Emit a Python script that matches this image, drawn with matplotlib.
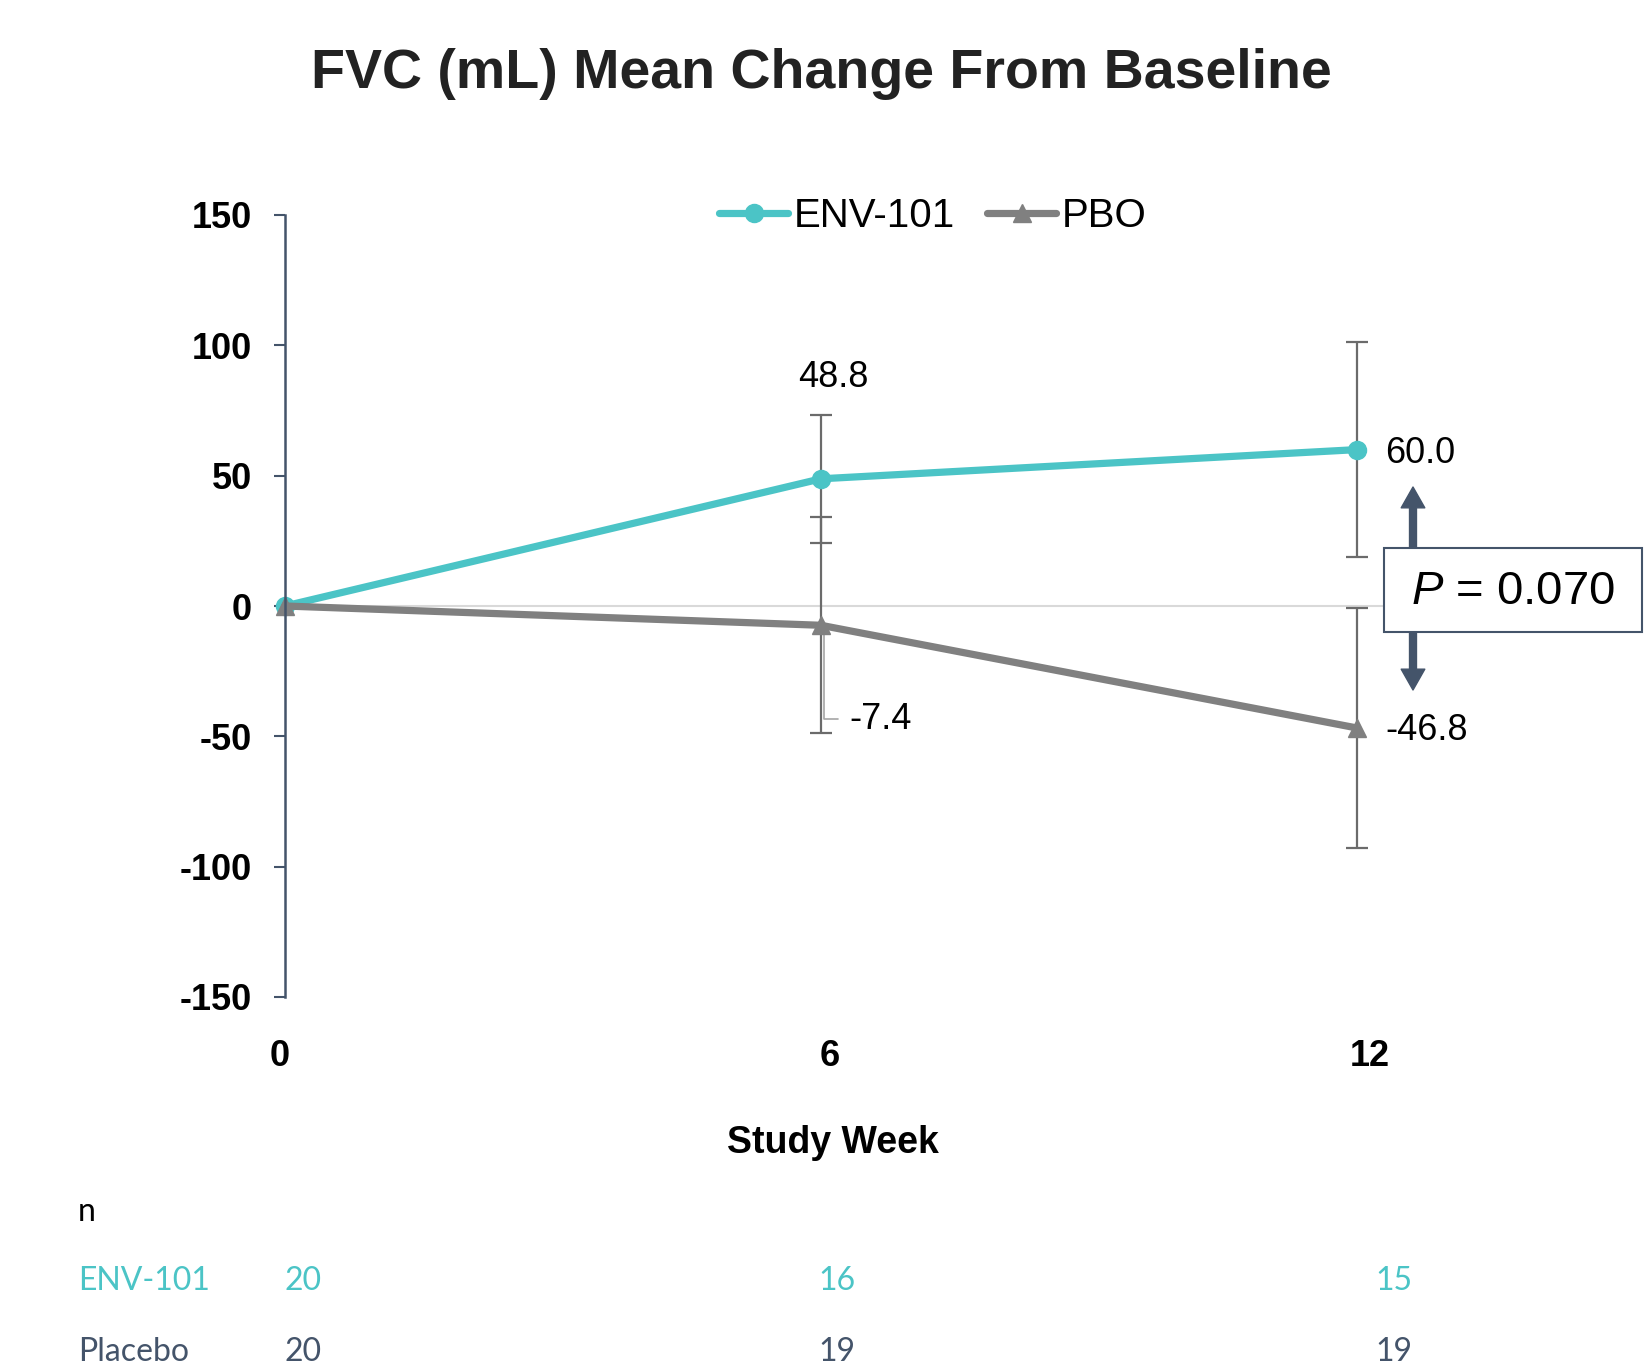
import matplotlib
matplotlib.use("Agg")
import matplotlib.pyplot as plt
from matplotlib.patches import Rectangle
from matplotlib.transforms import offset_copy, ScaledTranslation
import numpy as np

plt.rcParams['font.family'] = ['Liberation Sans', 'DejaVu Sans']
plt.rcParams['mathtext.fontset'] = 'custom'
plt.rcParams['mathtext.it'] = 'Liberation Sans:italic'
plt.rcParams['mathtext.rm'] = 'Liberation Sans'

# ---- data ----
weeks = [0, 6, 12]
week_labels = ["0", "6", "12"]
env_mean = [0.0, 48.8, 60.0]
env_err = [0.0, 24.5, 41.3]
pbo_mean = [0.0, -7.4, -46.8]
pbo_err = [0.0, 41.5, 46.1]
series_names = ["ENV-101", "PBO"]
p_text = "$P$ = 0.070"
n_row_names = ["ENV-101", "Placebo"]
n_env = [20, 16, 15]
n_pbo = [20, 19, 19]
yticks = [-150, -100, -50, 0, 50, 100, 150]

TEAL = "#4BC4C6"
GRAY = "#808080"
ERR = "#6B6B6B"
SLATE = "#44546A"

W, H = 1650, 1370
fig = plt.figure(figsize=(W / 100, H / 100), dpi=100)
ax = fig.add_axes([285 / W, 1 - 997 / H, (1357 - 285) / W, (997 - 215) / H])

ax.set_xlim(0, 12)
ax.set_ylim(-150, 150)

# zero line
ax.plot([0, 12.4], [0, 0], color="#D9D9D9", lw=1.5, zorder=1, clip_on=False)

# error bars (weeks 6 and 12)
ax.errorbar(weeks[1:], env_mean[1:], yerr=env_err[1:], fmt="none", ecolor=ERR,
            elinewidth=1.6, capsize=8, capthick=1.6, zorder=2, clip_on=False)
ax.errorbar(weeks[1:], pbo_mean[1:], yerr=pbo_err[1:], fmt="none", ecolor=ERR,
            elinewidth=1.6, capsize=8, capthick=1.6, zorder=2, clip_on=False)

# lines
ax.plot(weeks, env_mean, color=TEAL, lw=5.2, marker="o", markersize=13,
        solid_capstyle="round", zorder=3, clip_on=False, label=series_names[0])
ax.plot(weeks, pbo_mean, color=GRAY, lw=5.2, marker="^", markersize=13,
        solid_capstyle="round", zorder=4, clip_on=False, label=series_names[1])

# data labels
lab_fs = 26
ax.annotate(f"{env_mean[1]:.1f}", (weeks[1], env_mean[1]), xytext=(12, 101),
            textcoords="offset pixels", ha="center", va="center", fontsize=lab_fs)
ax.annotate(f"{env_mean[2]:.1f}", (weeks[2], env_mean[2]), xytext=(28, -4),
            textcoords="offset pixels", ha="left", va="center", fontsize=lab_fs)
ax.annotate(f"{pbo_mean[2]:.1f}", (weeks[2], pbo_mean[2]), xytext=(28, -3),
            textcoords="offset pixels", ha="left", va="center", fontsize=lab_fs)
lead_tr = offset_copy(ax.transData, fig=fig, x=3, y=0, units="dots")
ax.annotate(f"{pbo_mean[1]:.1f}", (weeks[1], pbo_mean[1]), xycoords=lead_tr,
            xytext=(25, -94), textcoords="offset pixels", ha="left", va="center",
            fontsize=lab_fs,
            arrowprops=dict(arrowstyle="-", color="#A6A6A6", lw=1.2,
                            connectionstyle="angle,angleA=0,angleB=90,rad=0",
                            relpos=(0, 0.5), shrinkA=6, shrinkB=0))

# axes styling
for s in ["top", "right", "bottom"]:
    ax.spines[s].set_visible(False)
ax.spines["left"].set_color(SLATE)
ax.spines["left"].set_linewidth(1.8)
ax.spines["left"].set_zorder(5)
ax.set_yticks(yticks)
ax.set_yticklabels([str(v) for v in yticks], fontsize=26, fontweight="bold")
ax.tick_params(axis="y", length=8, width=1.5, color=SLATE, pad=16)
ax.set_xticks(weeks)
ax.set_xticklabels(week_labels, fontsize=26, fontweight="bold")
ax.tick_params(axis="x", length=0, pad=30)
for lab, dx in zip(ax.get_xticklabels(), [-5, 9, 13]):
    lab.set_transform(lab.get_transform() + ScaledTranslation(dx / 100, 0, fig.dpi_scale_trans))

# legend
leg = fig.legend(loc="center", bbox_to_anchor=(933 / W, 1 - 216 / H), ncol=2,
                 frameon=False, fontsize=29, handlelength=1.7, handletextpad=0.15,
                 columnspacing=0.8, borderaxespad=0)

# title and x label
fig.text(821 / W, 1 - 74 / H, "FVC (mL) Mean Change From Baseline",
         ha="center", va="center", fontsize=40, fontweight="bold", color="#222222")
fig.text(833 / W, 1 - 1143 / H, "Study Week", ha="center", va="center",
         fontsize=27, fontweight="bold")

# P-value box and arrows
fig.patches.append(Rectangle((1384 / W, 1 - 632 / H), 258 / W, 84 / H,
                             transform=fig.transFigure, facecolor="white",
                             edgecolor=SLATE, lw=1.5, zorder=5))
fig.text(1513 / W, 1 - 592 / H, p_text, ha="center", va="center", fontsize=34,
         zorder=6)
arrow_kw = dict(arrowstyle="simple,head_length=0.75,head_width=0.85,tail_width=0.25",
                color=SLATE, mutation_scale=20, shrinkA=0, shrinkB=0)
ax.annotate("", xy=(1413, H - 487), xytext=(1413, H - 548), xycoords="figure pixels",
            textcoords="figure pixels", arrowprops=arrow_kw, annotation_clip=False)
ax.annotate("", xy=(1413, H - 690), xytext=(1413, H - 632), xycoords="figure pixels",
            textcoords="figure pixels", arrowprops=arrow_kw, annotation_clip=False)

# n table
tfam = ["Lato", "DejaVu Sans"]
tfs = 23
fig.text(78 / W, 1 - 1212 / H, "n", ha="left", va="center", fontsize=tfs,
         family=tfam, color="black")
col_x = [284 / W, 818 / W, 1375 / W]
row_y = [1 - 1281 / H, 1 - 1352 / H]
row_colors = [TEAL, SLATE]
for name, vals, y, c in zip(n_row_names, [n_env, n_pbo], row_y, row_colors):
    fig.text(78 / W, y, name, ha="left", va="center", fontsize=tfs, family=tfam, color=c)
    for x, v in zip(col_x, vals):
        fig.text(x, y, str(v), ha="left", va="center", fontsize=tfs, family=tfam, color=c)

fig.savefig("out.png", dpi=100)
